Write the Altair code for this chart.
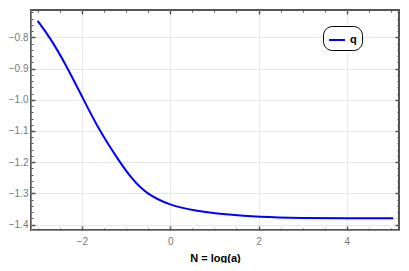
import altair as alt
import pandas as pd

N = [-3.0, -2.72, -2.35, -2.0, -1.6, -1.14, -0.88, -0.557, 0.0, 0.55, 1.26, 2.0, 3.0, 4.0, 5.05]
q = [-0.747, -0.80, -0.89, -0.988, -1.10, -1.20, -1.251, -1.30, -1.339, -1.3555, -1.3675, -1.376, -1.379, -1.380, -1.380]
series = ["q"] * len(N)

x_ticks = [-2, 0, 2, 4]
x_minor = [-3, -2.5, -1.5, -1, -0.5, 0.5, 1, 1.5, 2.5, 3, 3.5, 4.5, 5]
y_ticks = [-1.4, -1.3, -1.2, -1.1, -1.0, -0.9, -0.8]
y_minor = [-1.38, -1.36, -1.34, -1.32, -1.28, -1.26, -1.24, -1.22, -1.18, -1.16, -1.14, -1.12,
           -1.08, -1.06, -1.04, -1.02, -0.98, -0.96, -0.94, -0.92, -0.88, -0.86, -0.84, -0.82,
           -0.78, -0.76, -0.74, -0.72]

df = pd.DataFrame({"N": N, "q": q, "series": series})

font = "Liberation Sans"
frame = "#555555"
xdom = [-3.15, 5.18]
ydom = [-1.4175, -0.712]

xs = alt.Scale(domain=xdom, nice=False, zero=False)
ys = alt.Scale(domain=ydom, nice=False, zero=False)

base = alt.Chart(df)

main = base.mark_line(color="#0000ff", strokeWidth=2, interpolate="basis").encode(
    x=alt.X("N:Q", scale=xs,
            axis=alt.Axis(values=x_ticks, title="N = log(a)", format="d", ticks=False, labelPadding=6,
                          titlePadding=6, grid=True, orient="bottom")),
    y=alt.Y("q:Q", scale=ys,
            axis=alt.Axis(values=y_ticks, title=None, format=".1f", ticks=False, labelPadding=3,
                          grid=True, orient="left")),
    color=alt.Color("series:N", scale=alt.Scale(range=["#0000ff"]),
                    legend=alt.Legend(title=None, orient="none", legendX=292, legendY=16,
                                      symbolType="stroke", symbolStrokeWidth=2, symbolSize=256,
                                      labelFontWeight="bold", labelFontSize=11, labelFont=font,
                                      labelColor="#000000",
                                      strokeColor="#000000", cornerRadius=9, fillColor="#ffffff",
                                      padding=5)),
)


def tick_layer(xvals, yvals, xorient, yorient, size, width):
    def ax(vals, orient):
        return alt.Axis(values=vals, orient=orient, labels=False, title=None, grid=False,
                        domain=False, ticks=True, tickSize=size, tickWidth=width,
                        tickColor=frame, offset=-size)
    return base.mark_line(opacity=0).encode(
        x=alt.X("N:Q", scale=xs, axis=ax(xvals, xorient)),
        y=alt.Y("q:Q", scale=ys, axis=ax(yvals, yorient)),
    )


layers = [
    main,
    tick_layer(x_ticks, y_ticks, "bottom", "left", 4, 1.5),
    tick_layer(x_ticks, y_ticks, "top", "right", 4, 1.5),
    tick_layer(x_minor, y_minor, "bottom", "left", 2, 1),
    tick_layer(x_minor, y_minor, "top", "right", 2, 1),
]

chart = alt.layer(*layers).resolve_axis(x="independent", y="independent").properties(
    width=393, height=255,
    autosize=alt.AutoSizeParams(type="fit", contains="padding"),
    padding={"left": 0, "top": 1, "right": 1, "bottom": 0},
    background="#ffffff",
).configure_view(
    stroke=frame, strokeWidth=2, fill="#ffffff"
).configure_axis(
    gridColor="#e8e8e8", gridWidth=1,
    labelColor="#777777", labelFontSize=10, labelFont=font,
    titleFont=font, titleFontSize=11, titleFontWeight="bold", titleColor="#000000",
)

chart.save("out.html", embed_options={"renderer": "svg", "actions": False})
